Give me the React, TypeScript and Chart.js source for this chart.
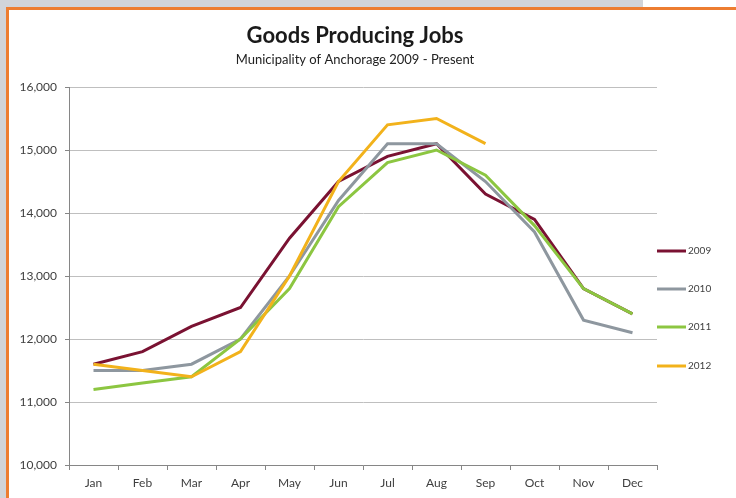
import React, { useEffect, useRef } from "react";
import { Chart, registerables } from "chart.js";

Chart.register(...registerables);

const months = ["Jan", "Feb", "Mar", "Apr", "May", "Jun", "Jul", "Aug", "Sep", "Oct", "Nov", "Dec"];
const jobs2009 = [11600, 11800, 12200, 12500, 13600, 14500, 14900, 15100, 14300, 13900, 12800, 12400];
const jobs2010 = [11500, 11500, 11600, 12000, 13000, 14200, 15100, 15100, 14500, 13700, 12300, 12100];
const jobs2011 = [11200, 11300, 11400, 12000, 12800, 14100, 14800, 15000, 14600, 13800, 12800, 12400];
const jobs2012 = [11600, 11500, 11400, 11800, 13000, 14500, 15400, 15500, 15100, null, null, null];
const seriesLabels = ["2009", "2010", "2011", "2012"];
const seriesColors = ["#7A1232", "#8E979F", "#8CC641", "#F2B21B"];
const titleText = "Goods Producing Jobs";
const subtitleText = "Municipality of Anchorage 2009 - Present";

const FONT = "Lato, 'Open Sans', sans-serif";

const overlayPlugin = {
  id: "overlay",
  afterDraw(chart: any) {
    const ctx = chart.ctx;
    const ca = chart.chartArea;
    ctx.save();
    ctx.fillStyle = "#1a1a1a";
    ctx.textAlign = "center";
    ctx.textBaseline = "middle";
    ctx.font = `bold 22px ${FONT}`;
    ctx.fillText(titleText, 346, 26);
    ctx.font = `13px ${FONT}`;
    ctx.fillStyle = "#222";
    ctx.fillText(subtitleText, 346, 50);
    const ys = [241, 279, 317, 356];
    chart.data.datasets.forEach((ds: any, i: number) => {
      const y = ys[i];
      ctx.strokeStyle = ds.borderColor;
      ctx.lineWidth = 3;
      ctx.beginPath();
      ctx.moveTo(ca.right, y);
      ctx.lineTo(ca.right + 29, y);
      ctx.stroke();
      ctx.fillStyle = "#404040";
      ctx.font = `10px ${FONT}`;
      ctx.textAlign = "left";
      ctx.textBaseline = "middle";
      ctx.fillText(ds.label, ca.right + 31, y);
    });
    ctx.restore();
  },
};

export default function App() {
  const ref = useRef<HTMLCanvasElement>(null);
  useEffect(() => {
    if (!ref.current) return;
    const series = [jobs2009, jobs2010, jobs2011, jobs2012];
    const chart = new Chart(ref.current, {
      type: "line",
      data: {
        labels: months,
        datasets: series.map((d, i) => ({
          label: seriesLabels[i],
          data: d,
          borderColor: seriesColors[i],
          backgroundColor: seriesColors[i],
          borderWidth: 3,
          pointRadius: 0,
          tension: 0,
          fill: false,
          order: series.length - i,
        })),
      },
      options: {
        animation: false,
        responsive: false,
        devicePixelRatio: 1,
        layout: { padding: { top: 77, right: 79, left: 0, bottom: 0 } },
        plugins: {
          legend: { display: false },
          title: { display: false },
          tooltip: { enabled: false },
        },
        scales: {
          x: {
            offset: true,
            grid: {
              offset: true,
              drawOnChartArea: false,
              drawTicks: true,
              tickLength: 5,
              color: "#868686",
            },
            border: { color: "#868686", width: 1 },
            ticks: { color: "#404040", font: { family: FONT, size: 12 }, padding: 6, maxRotation: 0 },
            afterFit(scale: any) {
              scale.height = 33;
            },
          },
          y: {
            min: 10000,
            max: 16000,
            grid: {
              color: "#BFBFBF",
              tickColor: "#868686",
              tickLength: 4,
            },
            border: { color: "#868686", width: 1 },
            ticks: {
              stepSize: 1000,
              color: "#404040",
              font: { family: FONT, size: 12 },
              padding: 8,
              callback: (v: any) => Number(v).toLocaleString("en-US"),
            },
            afterFit(scale: any) {
              scale.width = 60;
            },
          },
        },
      },
      plugins: [overlayPlugin],
    });
    return () => chart.destroy();
  }, []);

  return (
    <div style={{ position: "fixed", left: 0, top: 0, width: 736, height: 498, background: "#fff", overflow: "hidden" }}>
      <div style={{ position: "absolute", left: 0, top: 0, width: 643, height: 7, background: "#D1D4D9" }} />
      <div style={{ position: "absolute", left: 0, top: 0, width: 6, height: 498, background: "#D1D4D9" }} />
      <div style={{ position: "absolute", left: 6, top: 7, width: 730, height: 3, background: "#ED7D31" }} />
      <div style={{ position: "absolute", left: 6, top: 7, width: 3, height: 491, background: "#ED7D31" }} />
      <canvas ref={ref} width={727} height={488} style={{ position: "absolute", left: 9, top: 10, width: 727, height: 488 }} />
    </div>
  );
}
